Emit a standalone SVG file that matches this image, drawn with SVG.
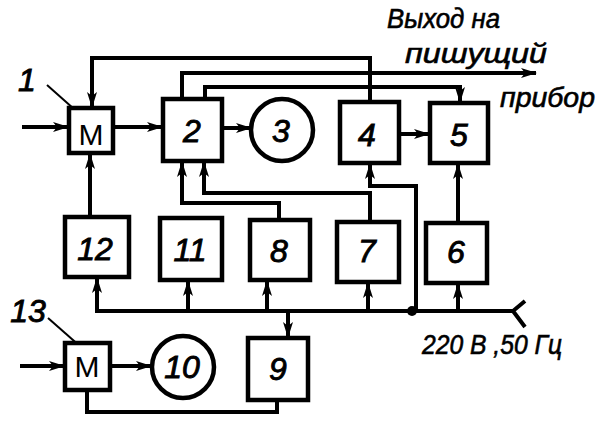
<svg xmlns="http://www.w3.org/2000/svg" width="597" height="430" viewBox="0 0 597 430">
<defs>
<style>
.box{fill:#fff;stroke:#000;stroke-width:4.5}
.ln{fill:none;stroke:#000;stroke-width:4;stroke-linejoin:miter}
.thin{fill:none;stroke:#000;stroke-width:2}
.num{font-family:"Liberation Sans",Arial,sans-serif;font-style:italic;font-size:32px;text-anchor:middle;fill:#000;stroke:#000;stroke-width:0.9}
.m{font-family:"Liberation Sans",Arial,sans-serif;font-size:30px;text-anchor:middle;fill:#000}
.lbl{font-family:"Liberation Sans",Arial,sans-serif;font-style:italic;font-size:27px;fill:#000;stroke:#000;stroke-width:0.6}
</style>
<marker id="ah" viewBox="0 0 16 10" refX="15" refY="5" markerWidth="16" markerHeight="10" markerUnits="userSpaceOnUse" orient="auto">
<path d="M0,0 L16,5 L0,10 L4,5 Z" fill="#000"/>
</marker>
</defs>
<rect width="597" height="430" fill="#fff"/>

<g id="connectors">
<line class="ln" x1="22" y1="127" x2="68" y2="127" marker-end="url(#ah)"/>
<line class="ln" x1="113" y1="127" x2="162" y2="127" marker-end="url(#ah)"/>
<line class="ln" x1="222" y1="128" x2="251" y2="128" marker-end="url(#ah)"/>
<line class="ln" x1="399" y1="134" x2="429" y2="134" marker-end="url(#ah)"/>
<path class="ln" d="M370,102 V58 H92 V107" marker-end="url(#ah)"/>
<path class="ln" d="M182,99 V73 H536" marker-end="url(#ah)"/>
<path class="ln" d="M205,99 V87 H460 V102" marker-end="url(#ah)"/>
<path class="ln" d="M90,217 V154" marker-end="url(#ah)"/>
<line class="ln" x1="95" y1="311" x2="513" y2="311"/>
<path class="ln" d="M525,301 L513,311 L525,327"/>
<circle cx="412" cy="311" r="5" fill="#000"/>
<path class="ln" d="M97,311 V278" marker-end="url(#ah)"/>
<path class="ln" d="M188,311 V281" marker-end="url(#ah)"/>
<path class="ln" d="M267,311 V281" marker-end="url(#ah)"/>
<path class="ln" d="M288,311 V337" marker-end="url(#ah)"/>
<path class="ln" d="M368,311 V283" marker-end="url(#ah)"/>
<path class="ln" d="M458,311 V284" marker-end="url(#ah)"/>
<path class="ln" d="M458,223 V164" marker-end="url(#ah)"/>
<path class="ln" d="M416,311 V186 H370 V164" marker-end="url(#ah)"/>
<path class="ln" d="M370,222 V193 H204 V162" marker-end="url(#ah)"/>
<path class="ln" d="M279,220 V203 H182 V162" marker-end="url(#ah)"/>
<line class="ln" x1="20" y1="366" x2="64" y2="366" marker-end="url(#ah)"/>
<line class="ln" x1="110" y1="366" x2="151" y2="366" marker-end="url(#ah)"/>
<path class="ln" d="M277,400 V412 H87 V390"/>
<line class="thin" x1="47" y1="85" x2="83" y2="117"/>
<line class="thin" x1="48" y1="318" x2="90" y2="355"/>
</g>

<g id="n1"><rect class="box" x="69" y="108" width="44" height="45"/><text class="m" x="91" y="145">M</text></g>
<g id="label1"><text class="num" x="27" y="91">1</text></g>
<g id="n2"><rect class="box" x="163" y="99" width="59" height="62"/><text class="num" x="192" y="142">2</text></g>
<g id="n3"><circle class="box" cx="282" cy="130" r="31"/><text class="num" x="281" y="142">3</text></g>
<g id="n4"><rect class="box" x="340" y="102" width="59" height="61"/><text class="num" x="367" y="146">4</text></g>
<g id="n5"><rect class="box" x="430" y="103" width="58" height="60"/><text class="num" x="459" y="146">5</text></g>
<g id="n6"><rect class="box" x="426" y="223" width="61" height="60"/><text class="num" x="456" y="263">6</text></g>
<g id="n7"><rect class="box" x="337" y="222" width="62" height="60"/><text class="num" x="367" y="262">7</text></g>
<g id="n8"><rect class="box" x="250" y="220" width="60" height="60"/><text class="num" x="279" y="262">8</text></g>
<g id="n9"><rect class="box" x="248" y="338" width="60" height="62"/><text class="num" x="278" y="380">9</text></g>
<g id="n10"><circle class="box" cx="183" cy="367" r="31"/><text class="num" x="182" y="378">10</text></g>
<g id="n11"><rect class="box" x="160" y="218" width="62" height="62"/><text class="num" x="190" y="261">11</text></g>
<g id="n12"><rect class="box" x="65" y="217" width="64" height="60"/><text class="num" x="95" y="260">12</text></g>
<g id="n13"><rect class="box" x="65" y="343" width="45" height="47"/><text class="m" x="87" y="377">M</text></g>
<g id="label13"><text class="num" x="28" y="322">13</text></g>

<g id="texts">
<text class="lbl" x="387" y="28" textLength="113" lengthAdjust="spacingAndGlyphs">Выход на</text>
<text class="lbl" x="405" y="63" font-size="30" textLength="142" lengthAdjust="spacingAndGlyphs">пишущий</text>
<text class="lbl" x="500" y="107" font-size="30" textLength="95" lengthAdjust="spacingAndGlyphs">прибор</text>
<text class="lbl" x="422" y="354" font-size="30" textLength="140" lengthAdjust="spacingAndGlyphs">220 В ,50 Гц</text>
</g>
</svg>
